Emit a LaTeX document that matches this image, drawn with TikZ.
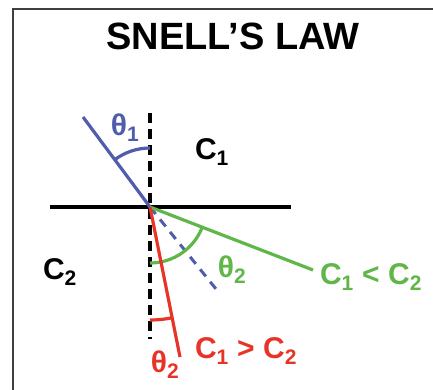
\documentclass[tikz,border=0pt]{standalone}
\usepackage{fontspec}
\setmainfont{Liberation Sans}
\definecolor{rayblue}{RGB}{80,92,172}
\definecolor{raygreen}{RGB}{96,182,72}
\definecolor{rayred}{RGB}{232,52,40}
\tikzset{
  ray/.style={line width=3.2pt},
  lbl/.style={font=\fontsize{30}{32}\selectfont\bfseries, inner sep=0pt},
}

\begin{document}
\begin{tikzpicture}[x=1pt,y=1pt]
\useasboundingbox (0,0) rectangle (433,389);
\draw[line width=2pt, black!75] (13,-10) -- (13,380) -- (450,380);

\node[font=\fontsize{38}{40}\selectfont\bfseries] (T) at (233,353) {SNELL’S LAW};

\coordinate (O) at (150,182);
\coordinate (L) at (50,182);
\coordinate (R) at (291,182);
\coordinate (N1) at (150,276);
\coordinate (N2) at (150,50);
\coordinate (B) at (83,272);
\coordinate (BD) at (216,100);
\coordinate (G) at (313,119);
\coordinate (Rd) at (180,32);

% interface and normal
\draw[line width=4pt] (L) -- (R);
\draw[line width=4pt, dash pattern=on 10pt off 6pt] (N1) -- (N2);

% incident ray
\draw[ray, rayblue] (B) -- (O);
\draw[line width=3pt, rayblue, dash pattern=on 9pt off 7pt] (O) -- (BD);
\draw[ray, rayblue] (O) ++(90:59) arc[start angle=90, end angle=126.7, radius=59];

% refracted rays
\draw[ray, raygreen] (O) -- (G);
\draw[ray, raygreen] (O) ++(-90:56) arc[start angle=-90, end angle=-21.1, radius=56];
\draw[ray, rayred] (O) -- (Rd);
\draw[ray, rayred] (O) ++(-90:113) arc[start angle=-90, end angle=-78.7, radius=113];

\node[lbl, text=rayblue] at (125,261) {θ\textsubscript{1}};
\node[lbl] at (212,237) {C\textsubscript{1}};
\node[lbl] at (60,117) {C\textsubscript{2}};
\node[lbl, text=raygreen] at (232,119) {θ\textsubscript{2}};
\node[lbl, text=raygreen] at (371,112) {C\textsubscript{1} < C\textsubscript{2}};
\node[lbl, text=rayred] at (165,24) {θ\textsubscript{2}};
\node[lbl, text=rayred] at (246,38) {C\textsubscript{1} > C\textsubscript{2}};
\end{tikzpicture}
\end{document}
